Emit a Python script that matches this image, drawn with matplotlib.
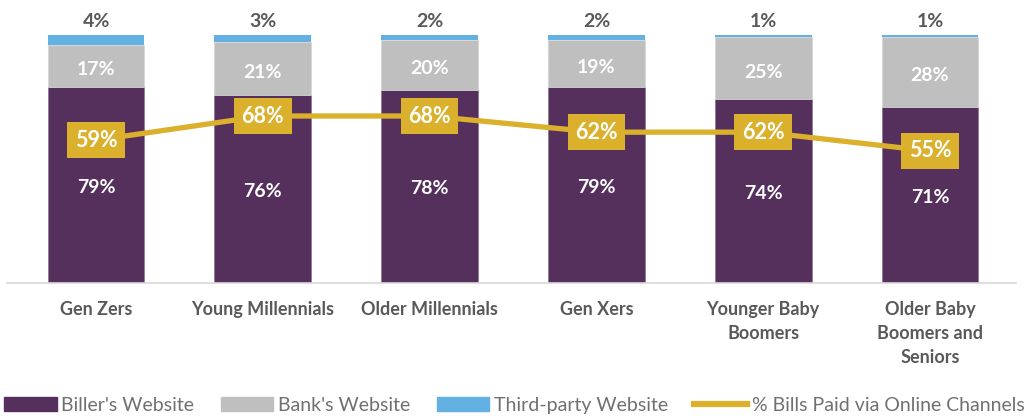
import matplotlib
matplotlib.use("Agg")
import matplotlib.pyplot as plt
from matplotlib.patches import Patch
from matplotlib.lines import Line2D

categories = ["Gen Zers", "Young Millennials", "Older Millennials", "Gen Xers",
              "Younger Baby\nBoomers", "Older Baby\nBoomers and\nSeniors"]
billers = [79, 76, 78, 79, 74, 71]
banks = [17, 21, 20, 19, 25, 28]
third_party = [4, 3, 2, 2, 1, 1]
online_pct = [59, 68, 68, 62, 62, 55]

C_PURPLE = "#56305D"
C_GRAY = "#BFBFBF"
C_BLUE = "#63B0E3"
C_GOLD = "#DAB02C"
C_TEXT = "#595959"

plt.rcParams['font.family'] = ['Lato', 'DejaVu Sans']

W, H = 1026, 419
fig = plt.figure(figsize=(W / 100, H / 100), dpi=100)
left, right = 7 / W, 1016 / W
bottom, top = 1 - 283 / H, 1 - 35 / H
ax = fig.add_axes([left, bottom, right - left, top - bottom])

x = list(range(len(categories)))
bw = 0.58
ax.bar(x, billers, bw, color=C_PURPLE, edgecolor="#8a7590", linewidth=0.5, zorder=2)
ax.bar(x, banks, bw, bottom=billers, color=C_GRAY, edgecolor="#d5d5d5", linewidth=0.5, zorder=2)
b3 = [a + b for a, b in zip(billers, banks)]
ax.bar(x, third_party, bw, bottom=b3, color=C_BLUE, linewidth=0, zorder=2)

for i in x:
    ax.text(i, billers[i] / 2 - 1.0, f"{billers[i]}%", ha="center", va="center",
            color="white", fontsize=14, fontweight="bold", zorder=5)
    ax.text(i, billers[i] + banks[i] / 2 - 1.5, f"{banks[i]}%", ha="center", va="center",
            color="white", fontsize=14, fontweight="bold", zorder=5)
    ax.text(i, b3[i] + third_party[i] + 2.0, f"{third_party[i]}%", ha="center", va="bottom",
            color=C_TEXT, fontsize=14, fontweight="bold", zorder=5, clip_on=False)

ax.set_xlim(-0.534, 5.516)
ax.set_ylim(0, 100)
ax.set_yticks([])
ax.set_xticks(x)
ax.set_xticklabels(categories, fontsize=13, fontweight="bold", color=C_TEXT, linespacing=1.5)
ax.tick_params(axis="x", length=0, pad=13)
for s in ["top", "left", "right"]:
    ax.spines[s].set_visible(False)
ax.spines["bottom"].set_color("#D9D9D9")
ax.spines["bottom"].set_linewidth(1.2)

ax2 = ax.twinx()
ax2.set_ylim(5.95, 98.1)
ax2.set_yticks([])
for s in ax2.spines.values():
    s.set_visible(False)
ax2.plot(x, online_pct, color=C_GOLD, linewidth=3.8, zorder=3, solid_capstyle="butt")
for i in x:
    ax2.text(i, online_pct[i], f"{online_pct[i]}%", ha="center", va="center",
             color="white", fontsize=15.5, fontweight="bold", zorder=6,
             bbox=dict(boxstyle="square,pad=0.35", fc=C_GOLD, ec="none"))

handles = [Patch(color=C_PURPLE), Patch(color=C_GRAY), Patch(color=C_BLUE),
           Line2D([0], [0], color=C_GOLD, linewidth=4.5)]
labels = ["Biller's Website", "Bank's Website", "Third-party Website", "% Bills Paid via Online Channels"]
leg = fig.legend(handles, labels, loc="center left", bbox_to_anchor=(0.004, 1 - 405 / H), ncol=4,
                 frameon=False, fontsize=14, handlelength=2.7, handleheight=0.7,
                 handletextpad=0.25, columnspacing=1.35, borderaxespad=0.0, borderpad=0.0)
for t in leg.get_texts():
    t.set_color("#707070")

fig.savefig("out.png", dpi=100)
